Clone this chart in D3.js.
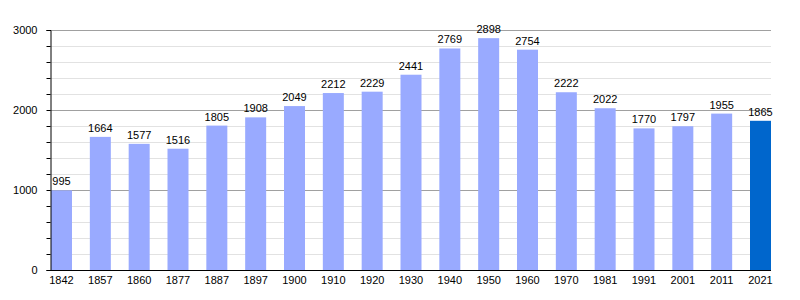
<!DOCTYPE html>
<html><head><meta charset="utf-8">
<script src="https://cdn.jsdelivr.net/npm/d3@7"></script>
<style>body{margin:0;background:#fff}svg{display:block}text{font-family:"Liberation Sans",Arial,sans-serif}</style>
</head><body><svg id="c" width="800" height="300"></svg>
<script>
const years = ["1842","1857","1860","1877","1887","1897","1900","1910","1920","1930","1940","1950","1960","1970","1981","1991","2001","2011","2021"];
const population = [995,1664,1577,1516,1805,1908,2049,2212,2229,2441,2769,2898,2754,2222,2022,1770,1797,1955,1865];
const majorTicks = [0,1000,2000,3000];
const minorTicks = d3.range(0,3001,200);

(function(){
const svg = d3.select("#c");
const mLeft = 50, mRight = 771, mTop = 30, mBottom = 270;
const y = d3.scaleLinear().domain([0,3000]).range([mBottom, mTop]);
const step = (750 - 51) / 18;
const x = d3.scaleBand().domain(years).range([51, 51 + step*19]).paddingInner(0).paddingOuter(0);
const bw = 21;

svg.append("g").selectAll("line").data(minorTicks.filter(d => d % 1000 !== 0)).join("line")
  .attr("x1", mLeft).attr("x2", mRight).attr("y1", d => y(d)+0.5).attr("y2", d => y(d)+0.5)
  .attr("stroke", "#e2e2e2").attr("stroke-width", 1);
svg.append("g").selectAll("line").data(majorTicks.filter(d => d > 0)).join("line")
  .attr("x1", mLeft).attr("x2", mRight).attr("y1", d => y(d)+0.5).attr("y2", d => y(d)+0.5)
  .attr("stroke", "#a0a0a0").attr("stroke-width", 1);

svg.append("g").selectAll("rect").data(years).join("rect")
  .attr("x", d => x(d)).attr("width", bw)
  .attr("y", (d,i) => y(population[i])).attr("height", (d,i) => mBottom - y(population[i]))
  .attr("fill", (d,i) => i === years.length-1 ? "#0066cc" : "#99aaff");

svg.append("g").selectAll("text").data(years).join("text")
  .attr("x", d => x(d) + bw/2).attr("y", (d,i) => y(population[i]) - 5)
  .attr("text-anchor", "middle").attr("font-size", 11).attr("fill", "#000")
  .text((d,i) => population[i]);

const yAxis = d3.axisLeft(y).tickValues(minorTicks).tickSize(4).tickFormat(d => d % 1000 === 0 ? d : "");
const ga = svg.append("g").attr("transform", `translate(${mLeft+0.5},0)`).call(yAxis);
ga.select(".domain").attr("stroke", "#000");
ga.selectAll(".tick line").attr("stroke", "#000");
ga.selectAll(".tick text").attr("font-size", 11).attr("font-family", '"Liberation Sans",Arial,sans-serif').attr("fill", "#000").attr("x", -13);

svg.append("line").attr("x1", mLeft).attr("x2", mRight).attr("y1", mBottom+0.5).attr("y2", mBottom+0.5).attr("stroke", "#000");
svg.append("g").selectAll("text").data(years).join("text")
  .attr("x", d => x(d) + bw/2).attr("y", 284)
  .attr("text-anchor", "middle").attr("font-size", 11).attr("fill", "#000")
  .text(d => d);
})();
</script></body></html>
